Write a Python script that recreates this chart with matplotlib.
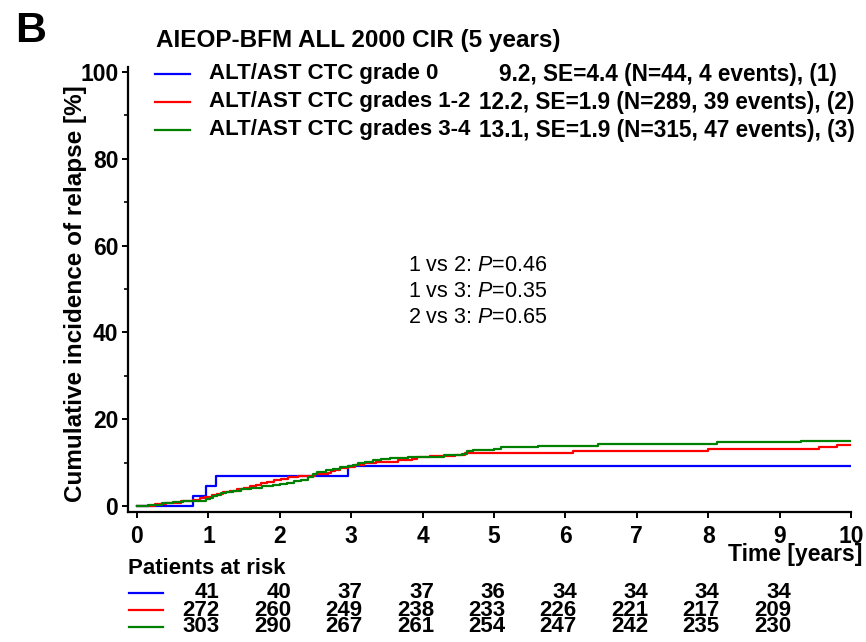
import numpy as np
import matplotlib
matplotlib.use("Agg")
from matplotlib import pyplot as plt
from matplotlib.lines import Line2D
import matplotlib.transforms as mtrans

plt.rcParams['font.family'] = ['Liberation Sans', 'DejaVu Sans']
plt.rcParams['mathtext.fontset'] = 'custom'
plt.rcParams['mathtext.rm'] = 'Liberation Sans'
plt.rcParams['mathtext.it'] = 'Liberation Sans:italic'

# cumulative incidence step curves (time in years, CIR in %)
t_g0 = [0, 0.78, 0.96, 1.11, 2.96, 10.0]
c_g0 = [0, 2.3, 4.6, 6.9, 9.2, 9.2]

t_g12 = [0, 0.25, 0.40, 0.62, 0.78, 0.88, 0.95, 1.05, 1.12, 1.20, 1.30, 1.40,
         1.50, 1.58, 1.66, 1.74, 1.82, 1.92, 2.02, 2.12, 2.25, 2.50, 2.68,
         2.72, 2.78, 2.85, 2.95, 3.05, 3.18, 3.35, 3.65, 3.85, 3.92, 4.10,
         4.45, 4.60, 6.10, 8.00, 9.55, 9.80, 10.0]
c_g12 = [0, 0.35, 0.7, 1.05, 1.4, 1.75, 2.1, 2.45, 2.8, 3.15, 3.5, 3.85,
         4.2, 4.55, 4.9, 5.25, 5.6, 5.95, 6.3, 6.65, 7.0, 7.35, 7.7,
         8.05, 8.4, 8.75, 9.1, 9.45, 9.8, 10.15, 10.5, 10.85, 11.2, 11.55,
         11.85, 12.2, 12.6, 13.1, 13.6, 14.0, 14.0]

t_g34 = [0, 0.15, 0.35, 0.50, 0.65, 0.97, 1.02, 1.07, 1.12, 1.18, 1.25, 1.35,
         1.45, 1.60, 1.75, 1.90, 2.00, 2.10, 2.20, 2.30, 2.40, 2.47, 2.52,
         2.65, 2.75, 2.85, 2.95, 3.02, 3.10, 3.20, 3.30, 3.42, 3.55, 3.80,
         4.30, 4.55, 4.62, 4.70, 5.00, 5.10, 5.62, 6.46, 8.13, 9.30, 10.0]
c_g34 = [0, 0.3, 0.6, 0.95, 1.25, 1.6, 1.9, 2.25, 2.55, 2.9, 3.2, 3.5,
         3.85, 4.15, 4.5, 4.8, 5.1, 5.4, 5.75, 6.05, 6.7, 7.3, 7.95,
         8.3, 8.6, 8.95, 9.25, 9.55, 9.9, 10.2, 10.5, 10.8, 11.1, 11.4,
         11.7, 12.0, 12.6, 12.9, 13.1, 13.5, 13.9, 14.3, 14.7, 15.0, 15.0]

groups = ['ALT/AST CTC grade 0', 'ALT/AST CTC grades 1-2', 'ALT/AST CTC grades 3-4']
stats = ['9.2, SE=4.4 (N=44, 4 events), (1)',
         '12.2, SE=1.9 (N=289, 39 events), (2)',
         '13.1, SE=1.9 (N=315, 47 events), (3)']
colors = ['#0000ff', '#ff0000', '#008000']

risk_times = [1, 2, 3, 4, 5, 6, 7, 8, 9]
risk_g0 = [41, 40, 37, 37, 36, 34, 34, 34, 34]
risk_g12 = [272, 260, 249, 238, 233, 226, 221, 217, 209]
risk_g34 = [303, 290, 267, 261, 254, 247, 242, 235, 230]

pvals = ['1 vs 2: $P$=0.46', '1 vs 3: $P$=0.35', '2 vs 3: $P$=0.65']

W, H = 866, 642
fig = plt.figure(figsize=(W / 100, H / 100), dpi=100)
ax = fig.add_axes([128 / W, 1 - 512 / H, (851 - 128) / W, (512 - 67) / H])

for t, c, col in zip([t_g0, t_g12, t_g34], [c_g0, c_g12, c_g34], colors):
    ax.plot(t, c, drawstyle='steps-post', color=col, lw=1.6)

ax.set_xlim(-0.126, 10.0)
ax.set_ylim(-1.38, 101.15)
ax.set_xticks(range(0, 11))
ax.set_yticks(range(0, 101, 20))
ax.set_yticks(range(10, 100, 20), minor=True)
for s in ['top', 'right']:
    ax.spines[s].set_visible(False)
for s in ['left', 'bottom']:
    ax.spines[s].set_linewidth(1.6)
ax.tick_params(which='major', direction='out', length=4, width=1.4,
               labelsize=16.5, pad=3)
ax.tick_params(which='minor', direction='out', length=3, width=1.2)
ax.tick_params(axis='x', pad=5.5)
for lab in ax.get_xticklabels() + ax.get_yticklabels():
    lab.set_fontweight('bold')

ax.set_ylabel('Cumulative incidence of relapse [%]', fontsize=17.5,
              fontweight='bold')
ax.yaxis.set_label_coords(-0.057, 0.49)

# panel letter and title
fig.text(15 / W, 1 - 31 / H, 'B', fontsize=31, fontweight='bold', va='center')
fig.text(156 / W, 1 - 40 / H, 'AIEOP-BFM ALL 2000 CIR (5 years)', fontsize=17.5,
         fontweight='bold', va='center')

# legend
leg_y = [74, 102, 130]
stat_x = [499, 479, 479]
for yy, g, st, col, sx in zip(leg_y, groups, stats, colors, stat_x):
    fy = 1 - yy / H
    fig.add_artist(Line2D([155 / W, 190 / W], [fy, fy], color=col, lw=1.6,
                          transform=fig.transFigure))
    fig.text(209 / W, fy, g, fontsize=16, fontweight='bold', va='center')
    fig.text(sx / W, fy, st, fontsize=16.3, fontweight='bold', va='center')

# p-values
for i, p in enumerate(pvals):
    ax.text(0.483, 0.553 - i * 0.0584, p, transform=ax.transAxes, ha='center',
            va='center', fontsize=15.5)

fig.text(862 / W, 1 - 555 / H, 'Time [years]', fontsize=16.5, fontweight='bold',
         ha='right', va='center')
fig.text(128 / W, 1 - 568 / H, 'Patients at risk', fontsize=16,
         fontweight='bold', va='center')

# numbers at risk
blend = mtrans.blended_transform_factory(ax.transData, fig.transFigure)
row_y = [593, 610, 627]
for yy, row, col in zip(row_y, [risk_g0, risk_g12, risk_g34], colors):
    fy = 1 - yy / H
    fig.add_artist(Line2D([129 / W, 163 / W], [fy, fy], color=col, lw=1.6,
                          transform=fig.transFigure))
    for t, n in zip(risk_times, row):
        fig.text(t + 0.16, fy, str(n), transform=blend, ha='right', va='center',
                 fontsize=16, fontweight='bold')

fig.savefig('out.png', dpi=100)
